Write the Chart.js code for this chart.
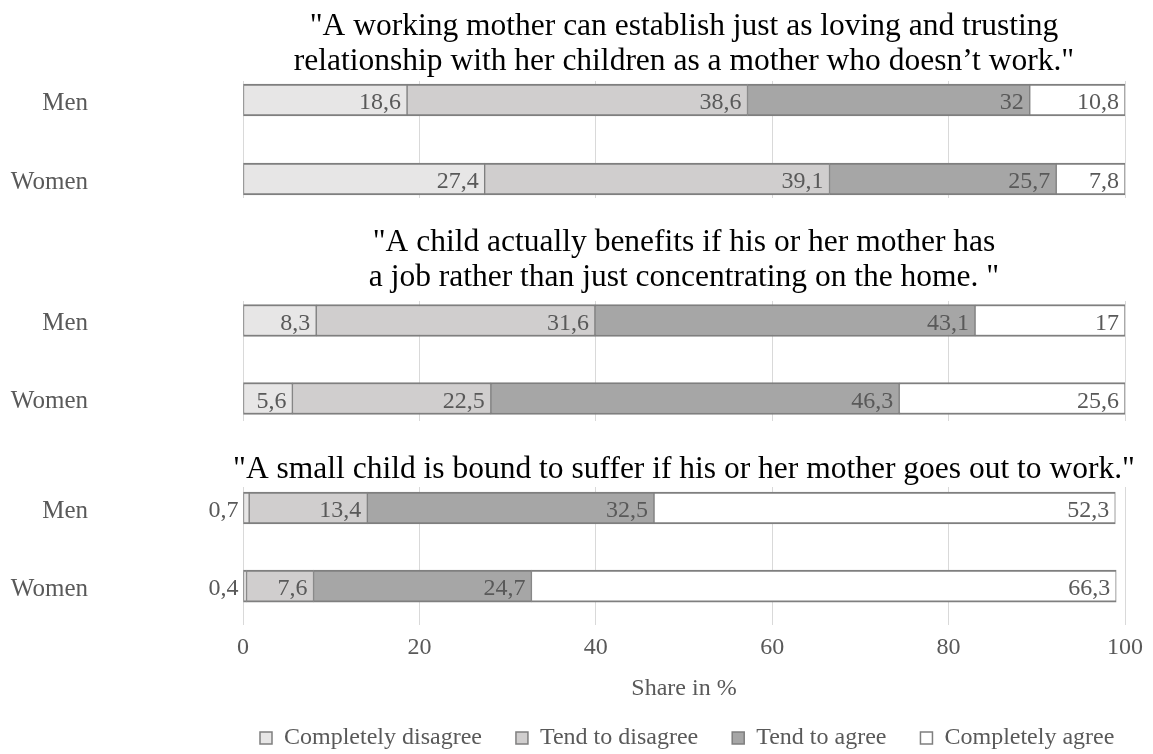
<!DOCTYPE html>
<html>
<head>
<meta charset="utf-8">
<title>Attitudes towards working mothers</title>
<script src="https://cdn.jsdelivr.net/npm/chart.js@4.4.1/dist/chart.umd.min.js"></script>
<style>
html, body { margin:0; padding:0; background:#ffffff; width:1153px; height:754px; overflow:hidden; }
#wrap { position:relative; width:1153px; height:754px; overflow:hidden; background:#ffffff; }
.panel { position:absolute; left:0; width:1153px; }
.panel canvas { display:block; }
</style>
</head>
<body>
<div id="wrap">
  <div class="panel" style="top:0px;height:198px"><canvas id="chart1"></canvas></div>
  <div class="panel" style="top:205px;height:216px"><canvas id="chart2"></canvas></div>
  <div class="panel" style="top:425px;height:335px"><canvas id="chart3"></canvas></div>
</div>
<script>
// ---------------- DATA ----------------
const groups = ['Men', 'Women'];
const seriesNames = ['Completely disagree', 'Tend to disagree', 'Tend to agree', 'Completely agree'];

const title1 = ['"A working mother can establish just as loving and trusting',
                'relationship with her children as a mother who doesn\u2019t work."'];
const title2 = ['"A child actually benefits if his or her mother has',
                'a job rather than just concentrating on the home. "'];
const title3 = ['"A small child is bound to suffer if his or her mother goes out to work."'];

// Statement 1 values [Men, Women]
const s1CompletelyDisagree = [18.6, 27.4];
const s1TendToDisagree     = [38.6, 39.1];
const s1TendToAgree        = [32, 25.7];
const s1CompletelyAgree    = [10.8, 7.8];
// Statement 2 values [Men, Women]
const s2CompletelyDisagree = [8.3, 5.6];
const s2TendToDisagree     = [31.6, 22.5];
const s2TendToAgree        = [43.1, 46.3];
const s2CompletelyAgree    = [17, 25.6];
// Statement 3 values [Men, Women]
const s3CompletelyDisagree = [0.7, 0.4];
const s3TendToDisagree     = [13.4, 7.6];
const s3TendToAgree        = [32.5, 24.7];
const s3CompletelyAgree    = [52.3, 66.3];

const xTickValues = [0, 20, 40, 60, 80, 100];
const xAxisTitle = 'Share in %';

// ---------------- STYLE ----------------
const FONT = '"Liberation Serif", "Times New Roman", Times, serif';
const TEXT_GRAY = '#595959';
const seriesFill = ['#e7e6e6', '#d0cece', '#a6a6a6', '#ffffff'];
const barBorder = '#7f7f7f';
const gridColor = '#d9d9d9';

function buildDatasets(valueSets) {
  return seriesNames.map((name, si) => ({
    label: name,
    data: groups.map((g, gi) => ({ x: valueSets[si][gi], y: gi })),
    backgroundColor: seriesFill[si],
    borderColor: barBorder,
    borderWidth: { top: 2, bottom: 2, left: 1, right: 1 },
    borderSkipped: false,
    barThickness: 32
  }));
}

function titlePlugin(lines, ys, size) {
  return {
    id: 'statementTitle',
    afterDraw(chart) {
      const { ctx, chartArea } = chart;
      ctx.save();
      ctx.font = size + 'px ' + FONT;
      ctx.fillStyle = '#000000';
      ctx.textAlign = 'center';
      ctx.textBaseline = 'middle';
      const cx = (chartArea.left + chartArea.right) / 2;
      lines.forEach((line, i) => ctx.fillText(line, cx, ys[i]));
      ctx.restore();
    }
  };
}

const barValueLabels = {
  id: 'barValueLabels',
  afterDatasetsDraw(chart) {
    const { ctx } = chart;
    ctx.save();
    ctx.font = '24px ' + FONT;
    ctx.fillStyle = TEXT_GRAY;
    ctx.textAlign = 'right';
    ctx.textBaseline = 'alphabetic';
    chart.data.datasets.forEach((ds, di) => {
      const meta = chart.getDatasetMeta(di);
      meta.data.forEach((bar, i) => {
        const v = ds.data[i].x;
        const txt = String(v).replace('.', ',');
        const w = ctx.measureText(txt).width;
        const start = Math.min(bar.x, bar.base), end = Math.max(bar.x, bar.base);
        let xr = end - 6;
        if (w + 10 > end - start) xr = start - 5;
        ctx.fillText(txt, xr, bar.y + 9);
      });
    });
    ctx.restore();
  }
};

const legendAnchor = {
  id: 'legendAnchor',
  afterLayout(chart) {
    const lg = chart.legend;
    if (!lg) return;
    const w = lg.right - lg.left;
    lg.left = 260 - lg.options.labels.padding;
    lg.right = lg.left + w;
  }
};

function makeChart(id, valueSets, titleLines, titleYs, yMin, yMax, areaTop, isLast) {
  const el = document.getElementById(id);
  return new Chart(el, {
    type: 'bar',
    data: { datasets: buildDatasets(valueSets) },
    options: {
      indexAxis: 'y',
      responsive: true,
      maintainAspectRatio: false,
      animation: false,
      devicePixelRatio: 1,
      layout: { padding: { top: areaTop, left: 0, right: 28, bottom: 0 } },
      scales: {
        x: {
          type: 'linear', stacked: true, min: 0, max: 100,
          afterBuildTicks: (s) => { s.ticks = xTickValues.map(v => ({ value: v })); },
          grid: { color: gridColor, lineWidth: 1, drawTicks: false },
          border: { display: false },
          ticks: { display: isLast, padding: 8.6, color: TEXT_GRAY, font: { family: FONT, size: 24 } },
          title: { display: isLast, text: xAxisTitle, color: TEXT_GRAY,
                   font: { family: FONT, size: 24 }, padding: { top: 3.4, bottom: -11.4 } }
        },
        y: {
          type: 'linear', stacked: true, reverse: true, offset: false, min: yMin, max: yMax,
          afterBuildTicks: (s) => { s.ticks = groups.map((g, i) => ({ value: i })); },
          afterFit: (s) => { s.width = 243; s.paddingTop = 0; s.paddingBottom = 0; },
          grid: { display: false, drawTicks: false, offset: false },
          border: { display: false },
          ticks: { padding: 155, labelOffset: 3, color: TEXT_GRAY, font: { family: FONT, size: 25 },
                   callback: (v) => (groups[v] !== undefined ? groups[v] : '') }
        }
      },
      plugins: {
        legend: isLast ? {
          display: true, position: 'bottom', align: 'start',
          labels: { color: TEXT_GRAY, font: { family: FONT, size: 24 }, boxWidth: 12, boxHeight: 12, padding: 34 }
        } : { display: false },
        tooltip: { enabled: false },
        title: { display: false }
      }
    },
    plugins: [titlePlugin(titleLines, titleYs, 31.5), barValueLabels].concat(isLast ? [legendAnchor] : [])
  });
}

makeChart('chart1',
  [s1CompletelyDisagree, s1TendToDisagree, s1TendToAgree, s1CompletelyAgree],
  title1, [27, 62], -19 / 79, 1 + 19 / 79, 81, false);
makeChart('chart2',
  [s2CompletelyDisagree, s2TendToDisagree, s2TendToAgree, s2CompletelyAgree],
  title2, [38, 73], -19.5 / 78, 1 + 22.5 / 78, 96, false);
makeChart('chart3',
  [s3CompletelyDisagree, s3TendToDisagree, s3TendToAgree, s3CompletelyAgree],
  title3, [45], -21 / 78, 1 + 39 / 78, 62, true);
</script>
</body>
</html>
